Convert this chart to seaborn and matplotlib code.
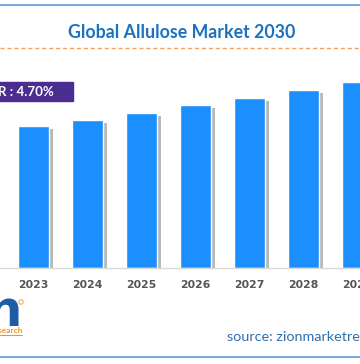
import matplotlib
matplotlib.use("Agg")
import matplotlib.pyplot as plt
import seaborn as sns
import pandas as pd
from matplotlib import patheffects as pe
from matplotlib.patches import Rectangle, Circle
from matplotlib.lines import Line2D

years = ["2022", "2023", "2024", "2025", "2026", "2027", "2028", "2029", "2030"]
values = [136, 142, 148, 155, 163, 170, 178, 186, 195]
title = "Global Allulose Market 2030"
cagr_label = "CAGR : 4.70%"
source_label = "source: zionmarketresearch.com"
logo_main = "zion"
logo_sub = "market research"

sns.set_style("white")
W, H = 360, 364
fig = plt.figure(figsize=(3.6, 3.64), dpi=100)
fig.patch.set_facecolor("white")


def fx(px):
    return px / W


def fy(py):
    return 1 - py / H


ax = fig.add_axes([0, 96 / H, 1, 200 / H])
df = pd.DataFrame({"year": years, "value": values})
sns.barplot(data=df, x="year", y="value", color="#1c8fff", saturation=1,
            width=0.56, ax=ax)
for p in ax.patches:
    p.set_path_effects([pe.SimplePatchShadow(offset=(3, -2), shadow_rgbFace="#7f7f7f", alpha=0.55),
                        pe.Normal()])
ax.set_xlim(0.3796, 7.046)
ax.set_ylim(0, 200)
ax.set_yticks([])
ax.set_xlabel("")
ax.set_ylabel("")
for s in ["top", "left", "right"]:
    ax.spines[s].set_visible(False)
ax.spines["bottom"].set_color("#d9d9d9")
ax.spines["bottom"].set_linewidth(1)
ax.tick_params(axis="x", length=0, pad=8.5, labelsize=7.8, labelcolor="#555555")
for lbl in ax.get_xticklabels():
    lbl.set_fontweight("heavy")
    lbl.set_family("DejaVu Sans")
ax.patch.set_alpha(0)

# frame lines
fig.add_artist(Line2D([0, 1], [fy(5), fy(5)], color="#5b9bd5", lw=1.2, transform=fig.transFigure))
fig.add_artist(Line2D([0, 1], [fy(357), fy(357)], color="#5b9bd5", lw=1.2, transform=fig.transFigure))
fig.add_artist(Line2D([0, 1], [fy(48), fy(48)], color="#f4a261", lw=1,
                      linestyle=(0, (3, 2)), transform=fig.transFigure))

fig.text(fx(181.5), fy(33), title, ha="center", va="center", fontsize=12.8,
         fontweight="bold", color="#1a73c0", family="Lato")

fig.add_artist(Rectangle((fx(-5), fy(101)), fx(78), 19 / H, color="#4b2d91",
                         transform=fig.transFigure))
fig.text(fx(54), fy(91.5), cagr_label, ha="right", va="center", color="white",
         fontweight="bold", fontsize=9.6, family="Lato")

fig.text(fx(227), fy(337), source_label, ha="left", va="center", color="#2e6fad",
         fontsize=10.4, family="Lato")

fig.text(fx(23), fy(325), logo_main, ha="right", va="baseline", fontsize=36,
         fontweight="bold", color="#1f5ca6", family="Liberation Sans Narrow")
fig.text(fx(22), fy(333), logo_sub, ha="right", va="baseline", fontsize=6,
         fontweight="bold", color="#f7941d", family="Lato")
fig.add_artist(Line2D([0, fx(22)], [fy(334.5), fy(334.5)], color="#f7941d", lw=0.8,
                      transform=fig.transFigure))
fig.add_artist(Circle((fx(21), fy(302)), 2.2 / W, facecolor="none", edgecolor="#f7941d",
                      lw=0.6, transform=fig.transFigure))

fig.savefig("out.png", dpi=100)
